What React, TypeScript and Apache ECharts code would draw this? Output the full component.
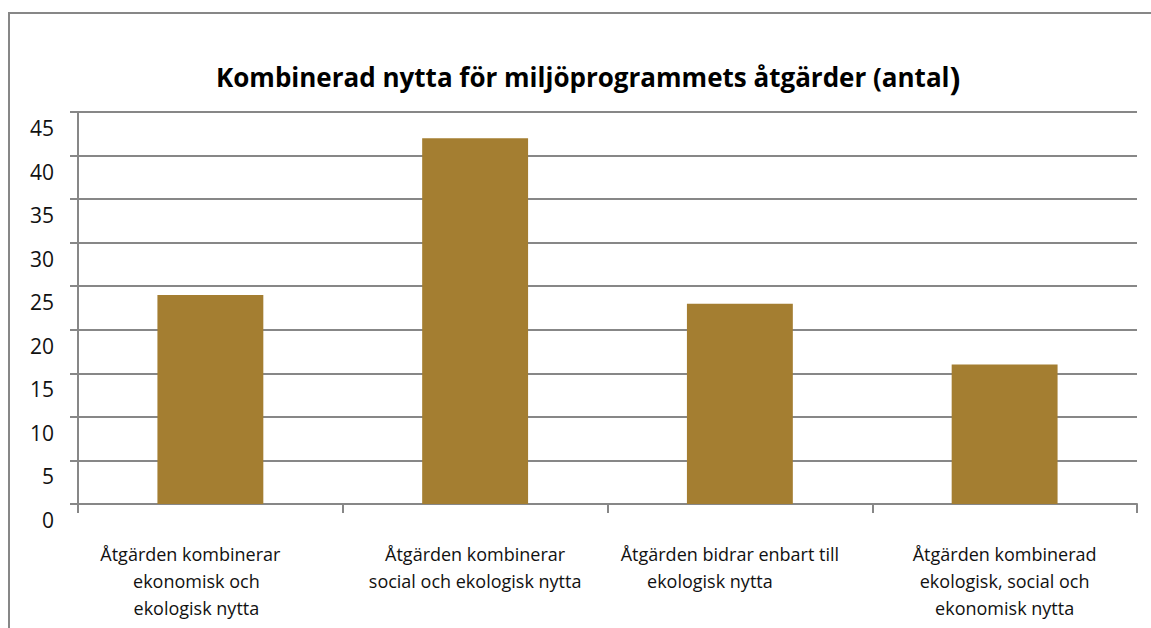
import React, { useEffect, useRef } from "react";
import * as echarts from "echarts";

const titleText = "Kombinerad nytta för miljöprogrammets åtgärder (antal";
const categories = [
  "Åtgärden kombinerar\nekonomisk och\nekologisk nytta",
  "Åtgärden kombinerar\nsocial och ekologisk nytta",
  "Åtgärden bidrar enbart till\nekologisk nytta",
  "Åtgärden kombinerad\nekologisk, social och\nekonomisk nytta",
];
const values = [24, 42, 23, 16];
const yTicks = { min: 0, max: 45, interval: 5 };

const FONT = "'Open Sans', 'Noto Sans', sans-serif";
const GRAY = "#878787";

// horizontal shift (px) per label line, to mimic the reference's wrapping
const lineShift: number[][] = [[-20, -14, -14], [0, 0], [-10, -30], [0, 0, 0]];

export default function App() {
  const ref = useRef<HTMLDivElement>(null);
  useEffect(() => {
    document.body.style.margin = "0";
    const chart = echarts.init(ref.current!, null, { renderer: "svg" });
    const rich: Record<string, any> = {};
    const shifts = new Set<number>();
    lineShift.forEach((arr) => arr.forEach((s) => shifts.add(s)));
    shifts.forEach((s) => {
      const key = "s" + Math.abs(s) + (s < 0 ? "l" : "r");
      rich[key] = {
        fontFamily: FONT,
        fontSize: 18,
        lineHeight: 27,
        color: "#111",
        padding: s < 0 ? [0, -2 * s, 0, 0] : [0, 0, 0, 2 * s],
      };
    });
    chart.setOption({
      animation: false,
      backgroundColor: "#ffffff",
      title: {
        text: "{t|" + titleText + "}{p|)}",
        left: 211,
        top: 56,
        textStyle: {
          rich: {
            t: { fontFamily: FONT, fontWeight: "bold", fontSize: 26, color: "#000" },
            p: { fontFamily: FONT, fontWeight: "bold", fontSize: 32, color: "#000" },
          },
        },
      },
      graphic: [
        {
          type: "rect",
          shape: { x: 9, y: 13, width: 1300, height: 800 },
          style: { fill: "none", stroke: GRAY, lineWidth: 2 },
          silent: true,
          z: -1,
        },
      ],
      grid: { left: 78, right: 14, top: 112, bottom: 124, containLabel: false },
      xAxis: {
        type: "category",
        data: categories,
        boundaryGap: true,
        axisLine: { show: true, lineStyle: { color: GRAY, width: 2 } },
        axisTick: { show: true, length: 9, alignWithLabel: false, lineStyle: { color: GRAY, width: 2 } },
        axisLabel: {
          interval: 0,
          margin: 36,
          fontFamily: FONT,
          fontSize: 18,
          lineHeight: 27,
          color: "#111",
          align: "center",
          rich,
          formatter: (v: string, i: number) =>
            v
              .split("\n")
              .map((line, j) => {
                const s = (lineShift[i] && lineShift[i][j]) || 0;
                return "{s" + Math.abs(s) + (s < 0 ? "l" : "r") + "|" + line + "}";
              })
              .join("\n"),
        },
        splitLine: { show: false },
      },
      yAxis: {
        type: "value",
        min: yTicks.min,
        max: yTicks.max,
        interval: yTicks.interval,
        axisLine: { show: true, lineStyle: { color: GRAY, width: 2 } },
        axisTick: { show: true, length: 8, lineStyle: { color: GRAY, width: 2 } },
        axisLabel: {
          margin: 24,
          fontFamily: FONT,
          fontSize: 21,
          lineHeight: 32,
          color: "#111",
          verticalAlign: "top",
        },
        splitLine: { show: true, lineStyle: { color: GRAY, width: 2 } },
      },
      series: [
        {
          type: "bar",
          data: values,
          barWidth: "40%",
          itemStyle: { color: "#A47E31" },
        },
      ],
    });
    return () => chart.dispose();
  }, []);
  return <div ref={ref} style={{ width: 1151, height: 628 }} />;
}
